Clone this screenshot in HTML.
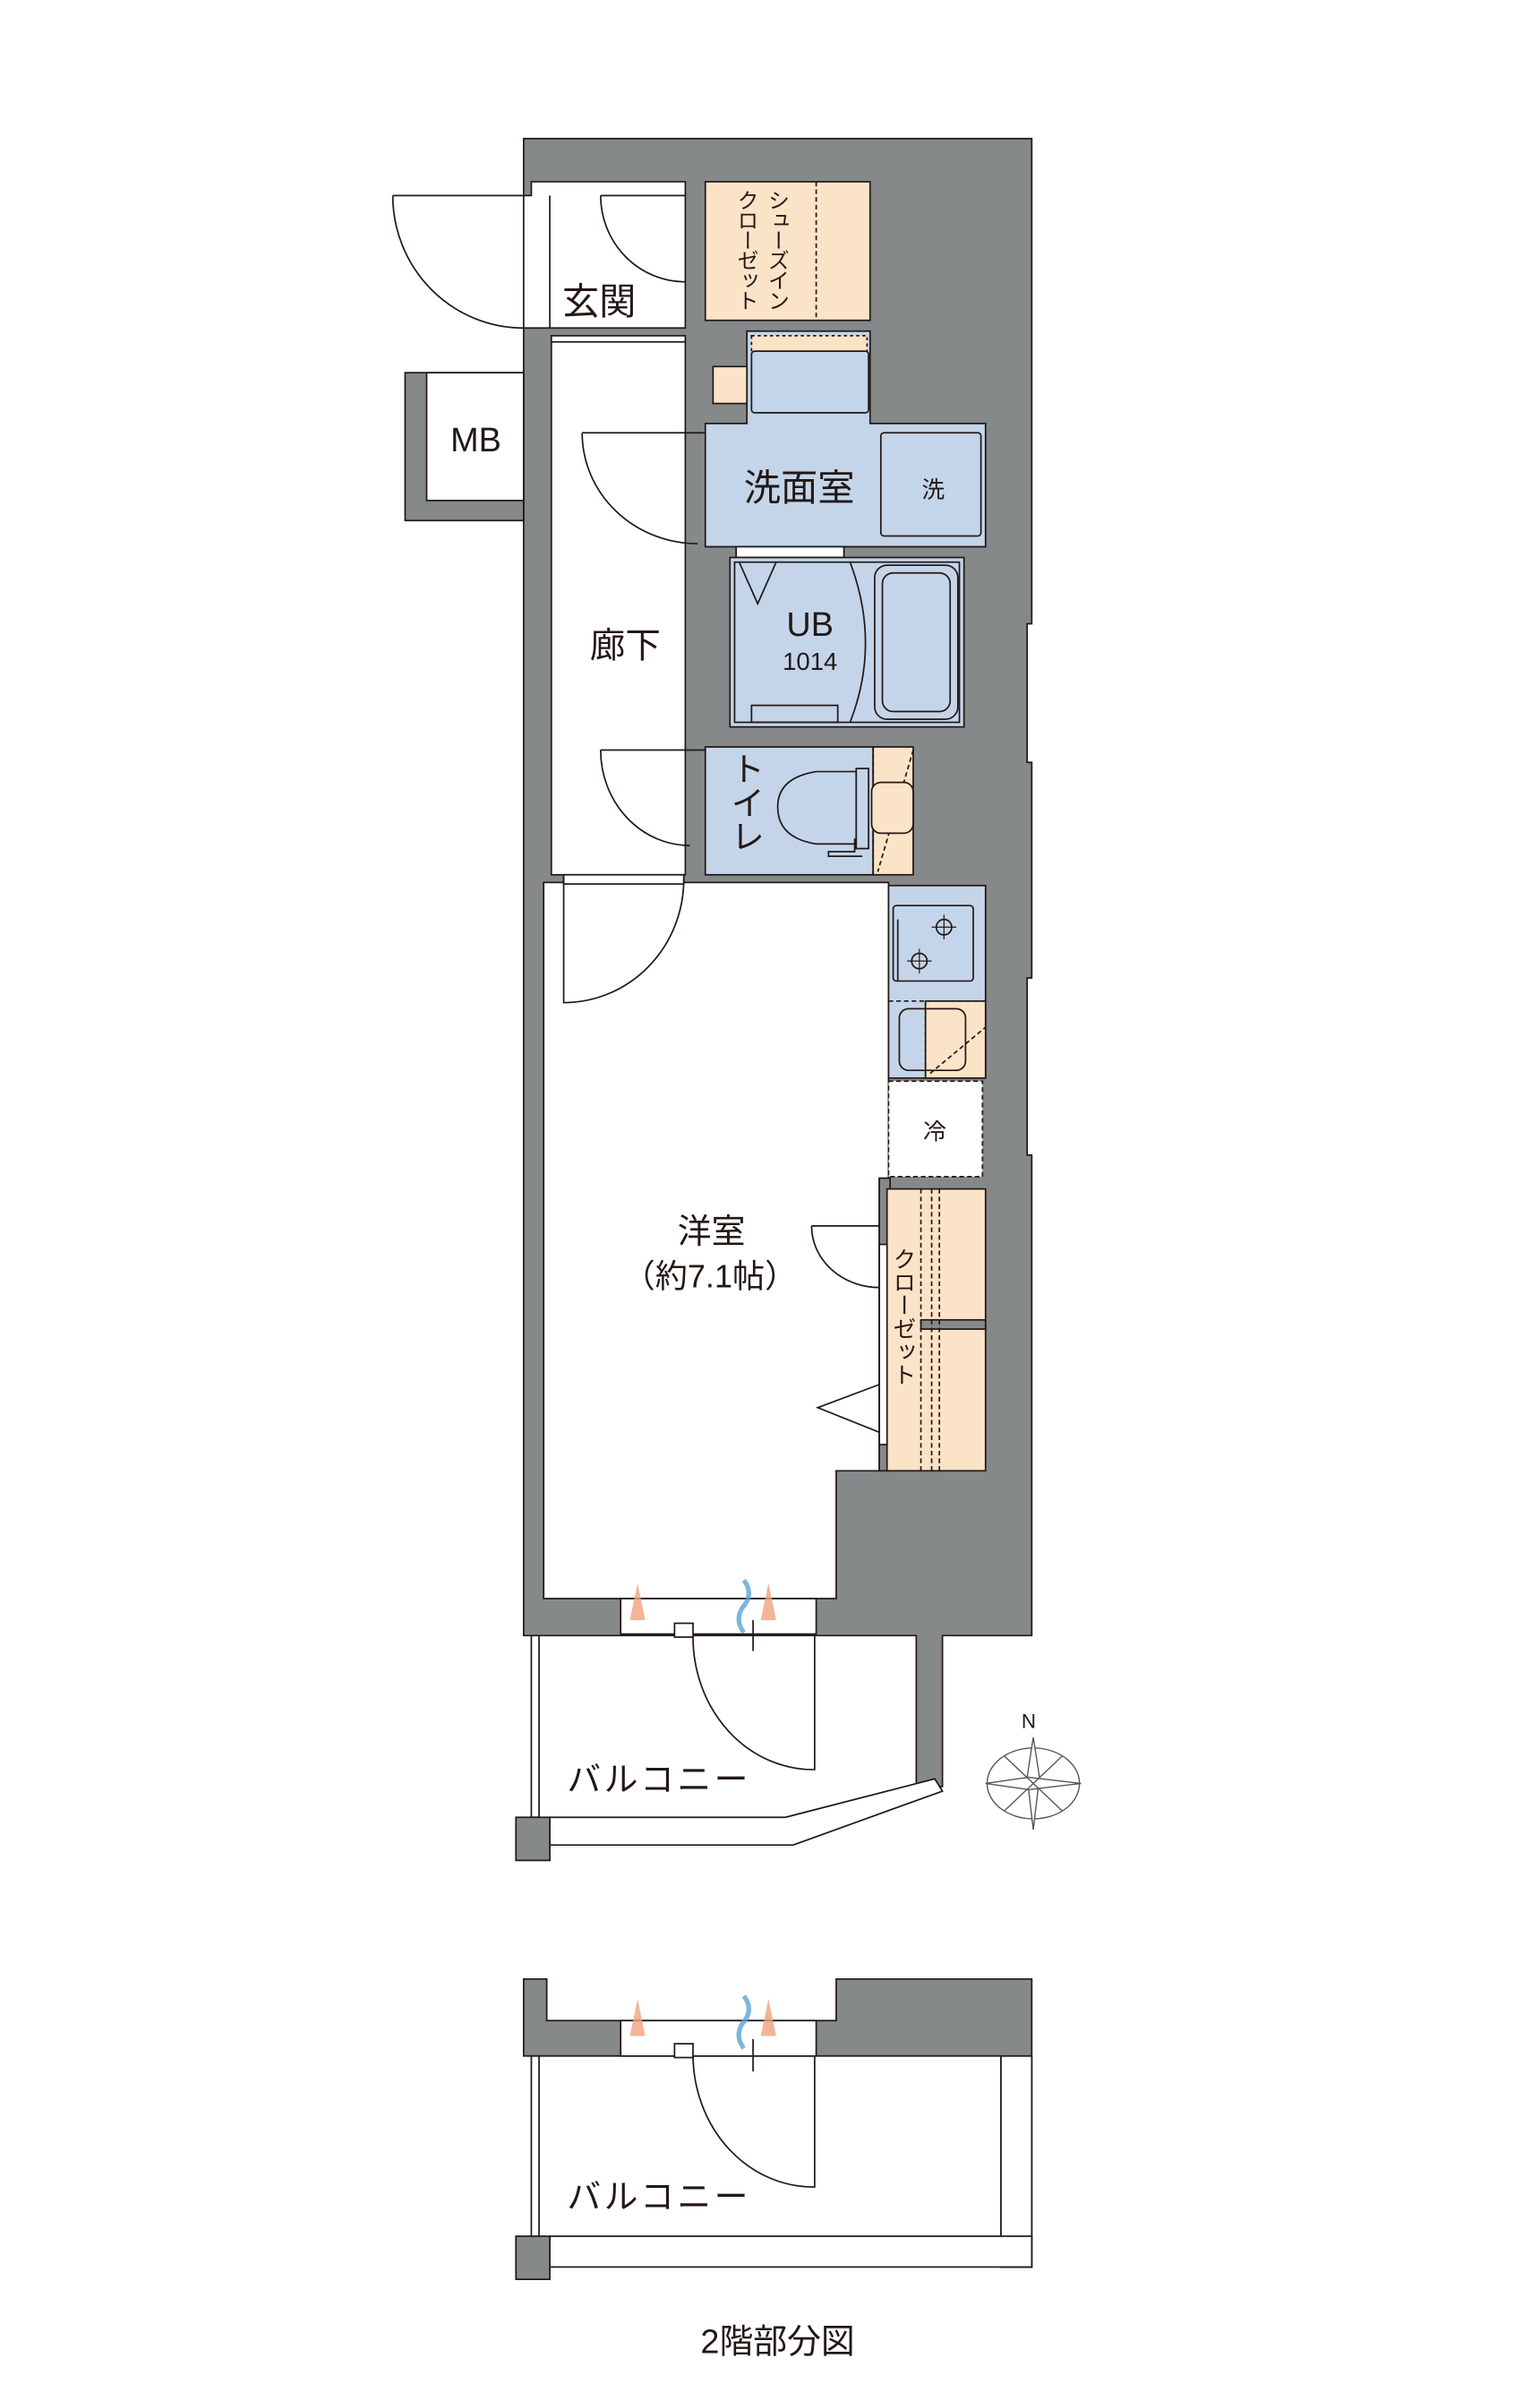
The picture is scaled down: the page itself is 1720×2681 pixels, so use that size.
<!DOCTYPE html>
<html><head><meta charset="utf-8"><style>
html,body{margin:0;padding:0;background:#fff}
svg{display:block}
text{font-family:"Liberation Sans","Noto Sans CJK JP",sans-serif;fill:#231815}
</style></head><body>
<svg width="1720" height="2681" viewBox="0 0 1000 1559" xmlns="http://www.w3.org/2000/svg">
<g stroke="#231815" stroke-width="1">
<path d="M340,90 H670 V405 H667 V495 H670 V635 H667 V750 H670 V1062 H612 V1160 H595 V1062 H340 Z" fill="#86898a"/>
<rect x="263" y="242" width="77" height="96" fill="#86898a"/>
<rect x="277" y="242" width="63" height="83" fill="#fff"/>
<path d="M340,127 H345 V118 H445 V213 H340 Z" fill="#fff"/>
<line x1="357" y1="127" x2="357" y2="213"/>
<rect x="358" y="218" width="87" height="350" fill="#fff"/>
<line x1="358" y1="222" x2="445" y2="222"/>
<rect x="458" y="118" width="107" height="90" fill="#fbe3c8"/>
<line x1="530" y1="118" x2="530" y2="208" stroke-dasharray="3,2"/>
<path d="M485,215 H565 V275 H640 V355 H458 V275 H485 Z" fill="#c4d5e9"/>
<rect x="488" y="218" width="75" height="12" fill="#fbe3c8" stroke-dasharray="2,2"/>
<rect x="488" y="228" width="76" height="40" rx="2" fill="#c4d5e9"/>
<rect x="463" y="238" width="22" height="24" fill="#fbe3c8"/>
<rect x="572" y="281" width="65" height="67" rx="2" fill="#c4d5e9"/>
<rect x="478" y="355" width="70" height="7" fill="#fff"/>
<rect x="474" y="362" width="152" height="110" fill="#c4d5e9"/>
<rect x="477" y="365" width="146" height="104" fill="none"/>
<path d="M480,365 L492,392 L504,365" fill="none"/>
<path d="M552,365 Q572,418 552,469" fill="none"/>
<rect x="568" y="367" width="54" height="100" rx="8" fill="none"/>
<rect x="573" y="372" width="44" height="90" rx="7" fill="none"/>
<rect x="488" y="458" width="56" height="11" fill="none"/>
<rect x="458" y="485" width="109" height="83" fill="#c4d5e9"/>
<rect x="567" y="485" width="26" height="83" fill="#fbe3c8"/>
<line x1="567" y1="485" x2="567" y2="568" stroke-dasharray="3,2"/>
<line x1="593" y1="487" x2="570" y2="566" stroke-dasharray="3,2"/>
<path d="M556,501 H530 Q505,505 505,524 Q505,544 530,548 H556 Z" fill="#c4d5e9"/>
<rect x="556" y="499" width="8" height="52" fill="#c4d5e9"/>
<path d="M556,545 H555 V553 H538 V556 H560" fill="none"/>
<rect x="566" y="508" width="27" height="33" rx="6" fill="#fbe3c8"/>
<g fill="none">
<path d="M255,127 H340 M255,127 A85,86 0 0 0 340,213"/>
<path d="M390,127 H445 M390,127 A55,56 0 0 0 445,183"/>
<path d="M378,281 H458 M378,281 A75,72 0 0 0 453,353"/>
<path d="M390,487 H458 M390,487 A58,62 0 0 0 448,549"/>
</g>
<path d="M353,573 H577 V765 H571 V955 H543 V1038 H353 Z" fill="#fff"/>
<rect x="366" y="568" width="78" height="6" fill="#fff"/>
<path d="M366,568 V651 A78,80 0 0 0 444,571" fill="none"/>
<rect x="577" y="575" width="63" height="125" fill="#c4d5e9"/>
<rect x="580" y="588" width="52" height="49" rx="2" fill="#c4d5e9"/>
<path d="M583,597 V637" fill="none"/>
<circle cx="613" cy="602" r="5" fill="none"/><circle cx="597" cy="624" r="5" fill="none"/>
<path d="M605,602 H621 M613,594 V610 M589,624 H605 M597,616 V632" fill="none" stroke-width="0.7"/>
<rect x="601" y="650" width="39" height="50" fill="#fbe3c8"/>
<line x1="577" y1="650" x2="640" y2="650" stroke-dasharray="3,2"/>
<line x1="601" y1="650" x2="601" y2="700" stroke-dasharray="3,2"/>
<rect x="584" y="655" width="43" height="40" rx="6" fill="none"/>
<line x1="604" y1="697" x2="640" y2="667" stroke-dasharray="3,2"/>
<rect x="577" y="702" width="61" height="62" fill="#fff" stroke-dasharray="3,2"/>
<rect x="571" y="765" width="7" height="190" fill="#86898a"/>
<rect x="576" y="772" width="64" height="183" fill="#fbe3c8"/>
<rect x="598" y="857" width="42" height="6" fill="#86898a"/>
<line x1="598" y1="772" x2="598" y2="955" stroke-dasharray="3,2"/>
<line x1="605" y1="772" x2="605" y2="955" stroke-dasharray="3,2"/>
<line x1="610" y1="772" x2="610" y2="955" stroke-dasharray="3,2"/>
<rect x="571" y="808" width="5" height="130" fill="#fff"/>
<path d="M527,796 H571 M527,796 A44,40 0 0 0 571,836" fill="none"/>
<path d="M571,899 L531,914 L571,930" fill="none"/>
<rect x="403" y="1038" width="127" height="23" fill="#fff"/>
<rect x="438" y="1054" width="12" height="9" fill="#fff"/>
<line x1="489" y1="1052" x2="489" y2="1072"/>
<path d="M450,1063 A78,86 0 0 0 529,1149 V1062" fill="none"/>
<rect x="345" y="1062" width="5" height="118" fill="#fff"/>
<path d="M357,1180 H510 L607,1155 L612,1163 L515,1198 H357 Z" fill="#fff"/>
<rect x="335" y="1180" width="22" height="28" fill="#86898a"/>
<path d="M340,1285 H355 V1312 H543 V1285 H670 V1472 H650 V1335 H340 Z" fill="#86898a"/>
<rect x="650" y="1335" width="20" height="137" fill="#fff"/>
<rect x="403" y="1312" width="127" height="23" fill="#fff"/>
<rect x="438" y="1327" width="12" height="9" fill="#fff"/>
<line x1="489" y1="1324" x2="489" y2="1345"/>
<path d="M450,1335 A78,86 0 0 0 529,1420 V1335" fill="none"/>
<rect x="345" y="1335" width="5" height="118" fill="#fff"/>
<rect x="357" y="1452" width="313" height="20" fill="#fff"/>
<rect x="335" y="1452" width="22" height="28" fill="#86898a"/>
</g>
<g opacity="0.8">
<polygon points="414,1028 409,1052 419,1052" fill="#f0a27a"/>
<polygon points="499,1028 494,1052 504,1052" fill="#f0a27a"/>
<path d="M483,1026 Q490,1035 482,1044 Q477,1052 483,1060" stroke="#5aa4d6" stroke-width="3" fill="none"/>
<polygon points="414,1298 409,1322 419,1322" fill="#f0a27a"/>
<polygon points="499,1298 494,1322 504,1322" fill="#f0a27a"/>
<path d="M483,1296 Q490,1305 482,1314 Q477,1322 483,1330" stroke="#5aa4d6" stroke-width="3" fill="none"/>
</g>
<g stroke="#555" stroke-width="0.8" fill="none">
<ellipse cx="671" cy="1158" rx="30" ry="23"/>
<polygon points="671,1128 675,1154 671,1188 667,1154" fill="#fff"/>
<polygon points="640,1158 668,1154 702,1158 668,1162" fill="#fff"/>
<line x1="652" y1="1140" x2="690" y2="1176"/><line x1="690" y1="1140" x2="652" y2="1176"/>
</g>
<text x="668" y="1122" font-size="13" font-family="Liberation Serif" text-anchor="middle">N</text>
<text x="389" y="204" font-size="24" text-anchor="middle">玄関</text>
<text x="309" y="293" font-size="22" text-anchor="middle">MB</text>
<text x="406" y="427" font-size="23" text-anchor="middle">廊下</text>
<text x="519" y="325" font-size="24" text-anchor="middle">洗面室</text>
<text x="606" y="323" font-size="15" text-anchor="middle">洗</text>
<text x="526" y="413" font-size="22" text-anchor="middle">UB</text>
<text x="526" y="435" font-size="16" text-anchor="middle">1014</text>
<text x="607" y="740" font-size="15" text-anchor="middle">冷</text>
<text x="462" y="807" font-size="22" text-anchor="middle">洋室</text>
<text x="461" y="836" font-size="21" text-anchor="middle">（約7.1帖）</text>
<text x="428" y="1163" font-size="22" text-anchor="middle" letter-spacing="2">バルコニー</text>
<text x="428" y="1434" font-size="22" text-anchor="middle" letter-spacing="2">バルコニー</text>
<text x="505" y="1528" font-size="22" text-anchor="middle">2階部分図</text>
<text font-size="14" writing-mode="tb" x="504" y="123" letter-spacing="-1">シューズイン</text>
<text font-size="14" writing-mode="tb" x="484" y="123" letter-spacing="-1">クローゼット</text>
<text font-size="22" writing-mode="tb" x="483" y="488">トイレ</text>
<text font-size="15" writing-mode="tb" x="586" y="810">クローゼット</text>
</svg>
</body></html>
